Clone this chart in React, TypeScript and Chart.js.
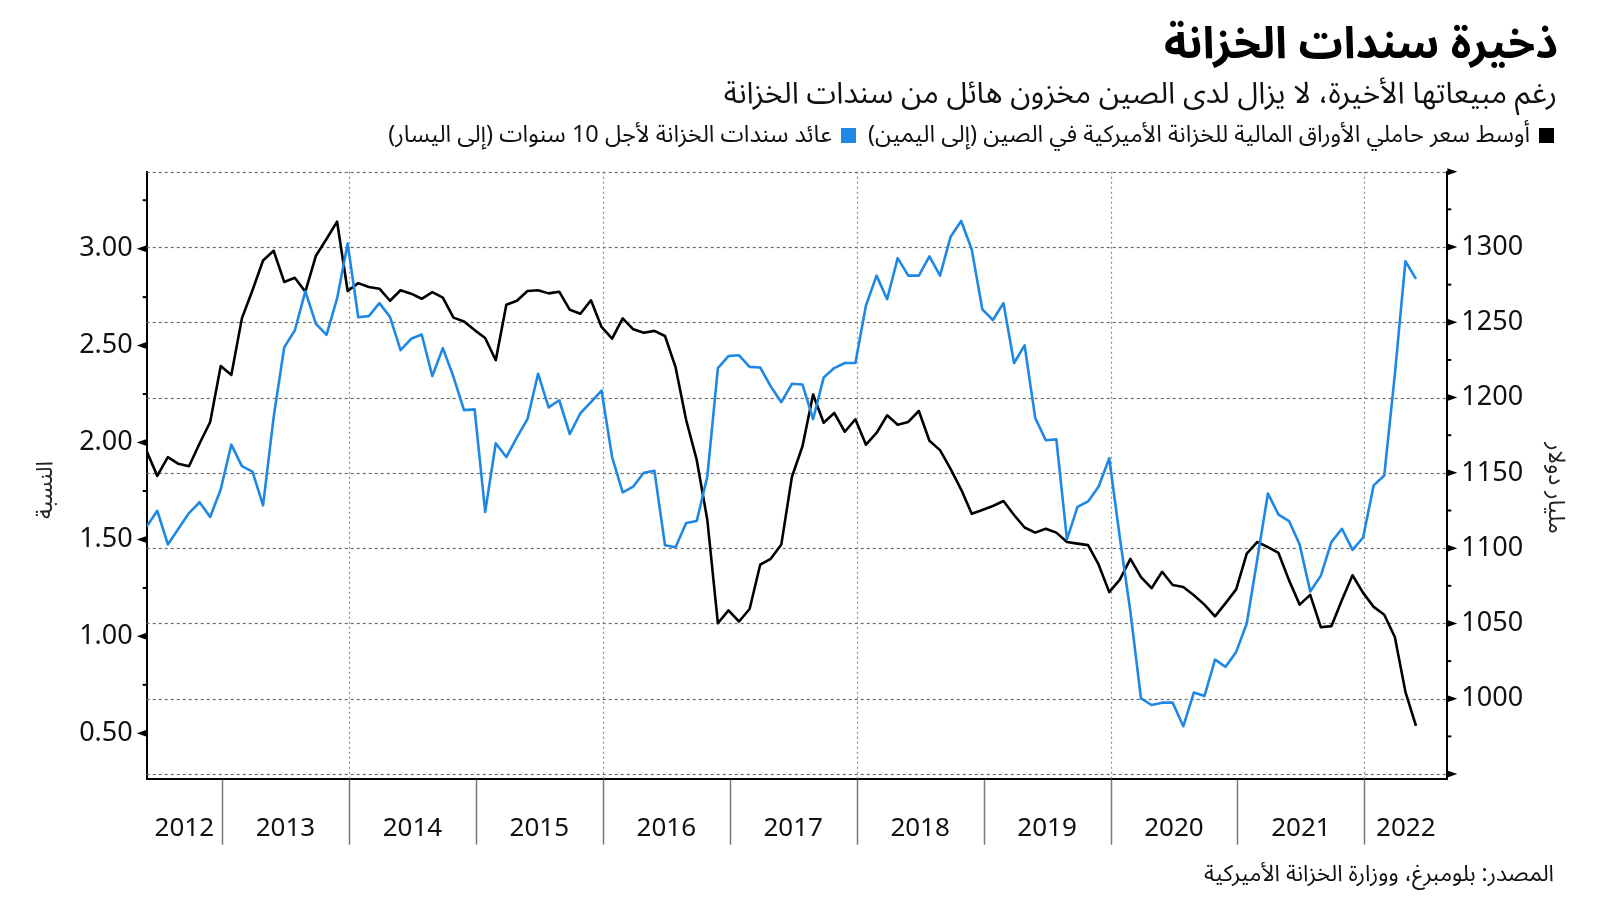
import React, { useEffect, useRef } from "react";
import { Chart, registerables } from "chart.js";

Chart.register(...registerables);

// Month-end observations, May 2012 .. May 2022
const START_YEAR = 2012;
const START_MONTH = 5;

// China's holdings of US Treasuries, $ billions (right axis)
const HOLDINGS = [
  1164.3, 1148.0, 1160.4, 1156.0, 1154.4, 1169.5, 1183.8, 1220.9,
  1215.0, 1252.6, 1271.3, 1291.0, 1297.5, 1276.8, 1279.6, 1270.3, 1294.2, 1305.3, 1316.8, 1270.8,
  1276.0, 1273.4, 1272.3, 1264.3, 1271.3, 1269.0, 1265.6, 1270.0, 1266.4, 1253.1, 1250.5, 1244.8,
  1239.6, 1224.8, 1261.7, 1264.3, 1270.8, 1271.3, 1269.2, 1270.3, 1258.3, 1255.7, 1264.6, 1246.9,
  1239.1, 1252.6, 1245.3, 1243.0, 1244.3, 1240.9, 1220.2, 1185.1, 1158.6, 1118.9, 1050.1, 1058.7,
  1051.3, 1059.6, 1089.0, 1092.9, 1102.5, 1147.4, 1167.7, 1202.0, 1183.3, 1189.8, 1177.3, 1185.6,
  1168.7, 1176.5, 1188.2, 1182.0, 1183.8, 1191.1, 1171.3, 1165.1, 1152.6, 1138.9, 1122.8, 1125.4,
  1128.0, 1131.3, 1122.0, 1113.7, 1110.3, 1112.9, 1110.3, 1104.1, 1103.0, 1102.0, 1089.0, 1070.8,
  1079.1, 1092.9, 1080.7, 1073.4, 1084.3, 1075.5, 1074.2, 1068.7, 1062.5, 1054.7, 1063.5, 1072.6,
  1096.3, 1104.1, 1100.7, 1096.8, 1078.6, 1062.5, 1069.0, 1047.5, 1048.2, 1065.6, 1082.0, 1070.3,
  1061.0, 1055.8, 1041.0, 1004.6, 982.0,
];

// US 10-year Treasury yield, % (left axis)
const YIELD_10Y = [
  1.567, 1.648, 1.474, 1.555, 1.636, 1.692, 1.616, 1.759,
  1.989, 1.878, 1.85, 1.676, 2.13, 2.491, 2.578, 2.78, 2.612, 2.555, 2.743, 3.026,
  2.646, 2.652, 2.719, 2.648, 2.477, 2.535, 2.557, 2.343, 2.487, 2.339, 2.167, 2.171,
  1.642, 1.996, 1.925, 2.026, 2.121, 2.355, 2.181, 2.218, 2.044, 2.151, 2.208, 2.268,
  1.925, 1.743, 1.773, 1.844, 1.854, 1.47, 1.46, 1.585, 1.595, 1.824, 2.384, 2.446,
  2.45, 2.39, 2.387, 2.289, 2.208, 2.303, 2.299, 2.121, 2.335, 2.384, 2.41, 2.41,
  2.707, 2.861, 2.739, 2.951, 2.861, 2.861, 2.96, 2.861, 3.061, 3.143, 2.996, 2.687,
  2.632, 2.719, 2.41, 2.501, 2.127, 2.012, 2.016, 1.5, 1.668, 1.696, 1.773, 1.919,
  1.51, 1.127, 0.68, 0.646, 0.658, 0.658, 0.536, 0.71, 0.692, 0.88, 0.843, 0.92,
  1.066, 1.399, 1.737, 1.628, 1.595, 1.474, 1.232, 1.312, 1.486, 1.555, 1.446, 1.51,
  1.779, 1.83, 2.35, 2.935, 2.844,
];

const YEARS = [2012, 2013, 2014, 2015, 2016, 2017, 2018, 2019, 2020, 2021, 2022];
const GRID_YEARS = [2014, 2016, 2018, 2020, 2022];

const LEFT_TICKS = [0.5, 1.0, 1.5, 2.0, 2.5, 3.0];
const LEFT_MINOR = [0.75, 1.25, 1.75, 2.25, 2.75, 3.25];
const RIGHT_TICKS = [950, 1000, 1050, 1100, 1150, 1200, 1250, 1300, 1350];
const RIGHT_LABELED = [1000, 1050, 1100, 1150, 1200, 1250, 1300];
const RIGHT_MINOR = [975, 1025, 1075, 1125, 1175, 1225, 1275, 1325];

const TITLE = "ذخيرة سندات الخزانة";
const SUBTITLE = "رغم مبيعاتها الأخيرة، لا يزال لدى الصين مخزون هائل من سندات الخزانة";
const LEGEND_HOLDINGS = "أوسط سعر حاملي الأوراق المالية للخزانة الأميركية في الصين (إلى اليمين)";
const LEGEND_YIELD = "عائد سندات الخزانة لأجل 10 سنوات (إلى اليسار)";
const LEFT_TITLE = "النسبة";
const RIGHT_TITLE = "مليار دولار";
const SOURCE = "المصدر: بلومبرغ، ووزارة الخزانة الأميركية";

const BLUE = "#1f88e5";
const ARABIC_FONT = "'Noto Sans Arabic', 'Noto Naskh Arabic', 'DejaVu Sans', sans-serif";
const NUM_FONT = "'Noto Sans', 'DejaVu Sans', sans-serif";

// month index (0 = May 2012) of the Dec point before year Y, plus a few days
const yearStart = (y: number) => (y - START_YEAR) * 12 - START_MONTH + 0.12;

const holdingsPts = HOLDINGS.map((v, i) => ({ x: i, y: v }));
const yieldPts = YIELD_10Y.map((v, i) => ({ x: i, y: v }));

const decor = {
  id: "decor",
  beforeDatasetsDraw(chart: any) {
    const { ctx, chartArea: a, scales } = chart;
    const xs = scales.x;
    const yr = scales.y2;
    ctx.save();
    ctx.lineWidth = 1.2;
    ctx.strokeStyle = "#6a6a6a";
    ctx.setLineDash([3, 3]);
    for (const v of RIGHT_TICKS) {
      const py = Math.round(yr.getPixelForValue(v)) + 0.5;
      ctx.beginPath();
      ctx.moveTo(a.left, py);
      ctx.lineTo(a.right, py);
      ctx.stroke();
    }
    ctx.strokeStyle = "#8a8a8a";
    ctx.setLineDash([2, 3]);
    for (const y of GRID_YEARS) {
      const px = Math.round(xs.getPixelForValue(yearStart(y))) + 0.5;
      ctx.beginPath();
      ctx.moveTo(px, a.top);
      ctx.lineTo(px, a.bottom);
      ctx.stroke();
    }
    ctx.restore();
  },
  afterDraw(chart: any) {
    const { ctx, chartArea: a, scales } = chart;
    const xs = scales.x;
    const yl = scales.y;
    const yr = scales.y2;
    ctx.save();
    ctx.setLineDash([]);
    ctx.fillStyle = "#000";
    ctx.strokeStyle = "#000";
    for (const v of LEFT_TICKS) {
      const py = yl.getPixelForValue(v);
      ctx.beginPath();
      ctx.moveTo(a.left, py - 3.5);
      ctx.lineTo(a.left, py + 3.5);
      ctx.lineTo(a.left - 10, py);
      ctx.closePath();
      ctx.fill();
    }
    ctx.lineWidth = 2;
    for (const v of LEFT_MINOR) {
      const py = yl.getPixelForValue(v);
      ctx.beginPath();
      ctx.moveTo(a.left - 4, py);
      ctx.lineTo(a.left, py);
      ctx.stroke();
    }
    for (const v of RIGHT_TICKS) {
      const py = yr.getPixelForValue(v);
      ctx.beginPath();
      ctx.moveTo(a.right, py - 3.5);
      ctx.lineTo(a.right, py + 3.5);
      ctx.lineTo(a.right + 10, py);
      ctx.closePath();
      ctx.fill();
    }
    for (const v of RIGHT_MINOR) {
      const py = yr.getPixelForValue(v);
      ctx.beginPath();
      ctx.moveTo(a.right, py);
      ctx.lineTo(a.right + 4, py);
      ctx.stroke();
    }
    ctx.strokeStyle = "#7a7a7a";
    ctx.lineWidth = 1.5;
    for (const y of YEARS) {
      const v = yearStart(y);
      if (v <= xs.min || v >= xs.max) continue;
      const px = Math.round(xs.getPixelForValue(v)) + 0.5;
      ctx.beginPath();
      ctx.moveTo(px, a.bottom + 1);
      ctx.lineTo(px, a.bottom + 66);
      ctx.stroke();
    }
    ctx.fillStyle = "#111";
    ctx.font = `26px ${NUM_FONT}`;
    ctx.textAlign = "center";
    ctx.textBaseline = "middle";
    for (const y of YEARS) {
      const lo = Math.max(yearStart(y), xs.min);
      const hi = Math.min(yearStart(y + 1), xs.max);
      const px = (xs.getPixelForValue(lo) + xs.getPixelForValue(hi)) / 2;
      ctx.fillText(String(y), px, a.bottom + 50);
    }
    ctx.font = `23px ${ARABIC_FONT}`;
    ctx.fillStyle = "#222";
    ctx.save();
    ctx.translate(49, 490);
    ctx.rotate(-Math.PI / 2);
    ctx.fillText(LEFT_TITLE, 0, 0);
    ctx.restore();
    ctx.save();
    ctx.translate(1552, 488);
    ctx.rotate(Math.PI / 2);
    ctx.fillText(RIGHT_TITLE, 0, 0);
    ctx.restore();
    ctx.restore();
  },
};

export default function App() {
  const ref = useRef<HTMLCanvasElement | null>(null);

  useEffect(() => {
    document.body.style.margin = "0";
    const canvas = ref.current;
    if (!canvas) return;
    const chart = new Chart(canvas, {
      type: "line",
      data: {
        datasets: [
          {
            label: LEGEND_YIELD,
            data: yieldPts,
            yAxisID: "y",
            borderColor: BLUE,
            borderWidth: 2.6,
            pointRadius: 0,
            tension: 0,
            borderJoinStyle: "round",
          },
          {
            label: LEGEND_HOLDINGS,
            data: holdingsPts,
            yAxisID: "y2",
            borderColor: "#000",
            borderWidth: 2.6,
            pointRadius: 0,
            tension: 0,
            borderJoinStyle: "round",
          },
        ],
      },
      options: {
        responsive: false,
        animation: false,
        devicePixelRatio: 1,
        layout: { padding: { top: 171.7, bottom: 122.3, left: 0, right: 0 } },
        plugins: { legend: { display: false }, tooltip: { enabled: false }, title: { display: false } },
        scales: {
          x: {
            type: "linear",
            min: 0,
            max: 122.96,
            ticks: { display: false },
            grid: { display: false, drawTicks: false },
            border: { display: true, color: "#000", width: 2 },
            afterFit: (s: any) => {
              s.height = 0;
            },
          },
          y: {
            type: "linear",
            position: "left",
            min: 0.2658,
            max: 3.397,
            afterBuildTicks: (s: any) => {
              s.ticks = LEFT_TICKS.map((v) => ({ value: v }));
            },
            afterFit: (s: any) => {
              s.width = 146.7;
            },
            ticks: {
              padding: 4,
              color: "#111",
              font: { family: NUM_FONT, size: 27 },
              callback: (v: any) => Number(v).toFixed(2),
            },
            grid: { display: true, drawOnChartArea: false, drawTicks: true, tickLength: 10, tickColor: "rgba(0,0,0,0)" },
            border: { display: true, color: "#000", width: 2 },
          },
          y2: {
            type: "linear",
            position: "right",
            min: 946.9,
            max: 1350,
            afterBuildTicks: (s: any) => {
              s.ticks = RIGHT_LABELED.map((v) => ({ value: v }));
            },
            afterFit: (s: any) => {
              s.width = 152.7;
            },
            ticks: {
              padding: 4,
              color: "#111",
              font: { family: NUM_FONT, size: 27 },
              callback: (v: any) => String(v),
            },
            grid: { display: true, drawOnChartArea: false, drawTicks: true, tickLength: 10, tickColor: "rgba(0,0,0,0)" },
            border: { display: true, color: "#000", width: 2 },
          },
        },
      },
      plugins: [decor],
    } as any);
    return () => chart.destroy();
  }, []);

  const sq = (c: string) => (
    <span style={{ display: "inline-block", width: 15, height: 15, background: c, margin: "0 0 0 9px", verticalAlign: "-1px" }} />
  );

  return (
    <div style={{ position: "absolute", left: 0, top: 0, width: 1600, height: 901, background: "#fff", overflow: "hidden" }}>
      <canvas ref={ref} width={1600} height={901} style={{ position: "absolute", left: 0, top: 0, width: 1600, height: 901 }} />
      <div
        dir="rtl"
        style={{ position: "absolute", right: 42, top: 14, fontFamily: ARABIC_FONT, fontWeight: 700, fontSize: 44, lineHeight: "60px", color: "#000", whiteSpace: "nowrap" }}
      >
        {TITLE}
      </div>
      <div
        dir="rtl"
        style={{ position: "absolute", right: 43, top: 74, fontFamily: ARABIC_FONT, fontSize: 30, lineHeight: "40px", color: "#111", whiteSpace: "nowrap" }}
      >
        {SUBTITLE}
      </div>
      <div
        dir="rtl"
        style={{ position: "absolute", right: 46, top: 119, fontFamily: ARABIC_FONT, fontSize: 23.5, lineHeight: "32px", color: "#111", whiteSpace: "nowrap" }}
      >
        {sq("#000")}
        <span>{LEGEND_HOLDINGS}</span>
        <span style={{ display: "inline-block", width: 12 }} />
        {sq(BLUE)}
        <span>{LEGEND_YIELD}</span>
      </div>
      <div
        dir="rtl"
        style={{ position: "absolute", right: 46, top: 859, fontFamily: ARABIC_FONT, fontSize: 22.7, lineHeight: "30px", color: "#111", whiteSpace: "nowrap" }}
      >
        {SOURCE}
      </div>
    </div>
  );
}
